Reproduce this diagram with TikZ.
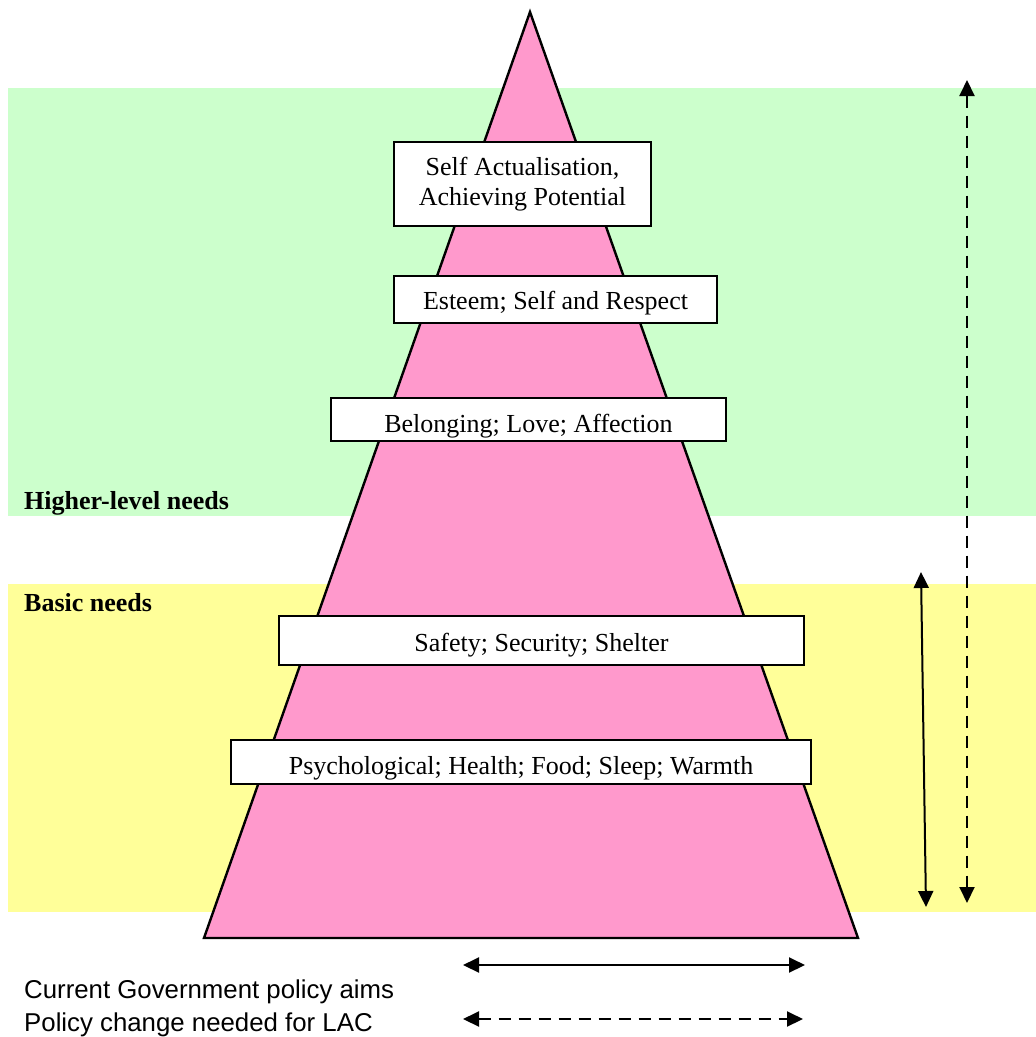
\documentclass[tikz,border=0pt]{standalone}
\usepackage{fontspec}
\setmainfont{Liberation Serif}
\setsansfont{Liberation Sans}
\usetikzlibrary{arrows.meta}

\definecolor{bandgreen}{RGB}{204,255,204}
\definecolor{bandyellow}{RGB}{255,255,153}
\definecolor{pyrpink}{RGB}{255,153,204}

\begin{document}
\begin{tikzpicture}[x=1pt,y=-1pt,>={Triangle[width=15pt,length=16pt]}]
    \tikzstyle{needbox}=[draw=black,line width=2.4pt,fill=white,inner sep=0pt,align=center,font=\fontsize{26}{30}\selectfont]
    \tikzstyle{lowtext}=[text height=25pt,text depth=0pt]
    \tikzstyle{bandlabel}=[anchor=west,inner sep=0pt,font=\fontsize{26}{28}\selectfont\bfseries]
    \tikzstyle{legendtext}=[anchor=west,inner sep=0pt,font=\sffamily\fontsize{25.8}{28}\selectfont]
    \tikzstyle{dashline}=[dash pattern=on 12pt off 8pt]
    \useasboundingbox (0,0) rectangle (1036,1037);
    % coloured bands
    \fill[bandgreen] (8,88) rectangle (1036,516);
    \fill[bandyellow] (8,584) rectangle (1036,912);
    % the pyramid
    \draw[fill=pyrpink,line width=2.4pt,line join=miter] (530,12) -- (858,938) -- (204,938) -- cycle;
    \node[needbox,minimum width=257pt,minimum height=84pt] (b_1) at (522.5,184) {Self Actualisation,\\Achieving Potential};
    \node[needbox,text height=19pt,text depth=0pt,minimum width=323pt,minimum height=47pt] (b_2) at (555.5,299.5) {Esteem; Self and Respect};
    \node[needbox,lowtext,minimum width=395pt,minimum height=43pt] (b_3) at (528.5,419.5) {Belonging; Love; Affection};
    \node[needbox,text height=21pt,text depth=0pt,minimum width=525pt,minimum height=49pt] (b_4) at (541.5,640.5) {Safety; Security; Shelter};
    \node[needbox,lowtext,minimum width=580pt,minimum height=44pt] (b_5) at (521,762) {Psychological; Health; Food; Sleep; Warmth};
    \node[bandlabel] (higher) at (24,503) {Higher-level needs};
    \node[bandlabel] (basic) at (24,603) {Basic needs};
    % side arrows
    \coordinate (d_top) at (967,80);
    \coordinate (d_bot) at (967,903);
    \coordinate (s_top) at (921,572);
    \coordinate (s_bot) at (926,907);
    \draw[<->,line width=2pt,dashline] (d_top) -- (d_bot);
    \draw[<->,line width=2pt] (s_top) -- (s_bot);
    % legend
    \node[legendtext] (aims) at (24,992) {Current Government policy aims};
    \node[legendtext] (change) at (24,1025) {Policy change needed for LAC};
    \coordinate (l1_a) at (463,965);
    \coordinate (l1_b) at (805,965);
    \coordinate (l2_a) at (463,1019);
    \coordinate (l2_b) at (803,1019);
    \draw[<->,line width=2pt] (l1_a) -- (l1_b);
    \draw[<->,line width=2pt,dashline] (l2_a) -- (l2_b);
\end{tikzpicture}
\end{document}
